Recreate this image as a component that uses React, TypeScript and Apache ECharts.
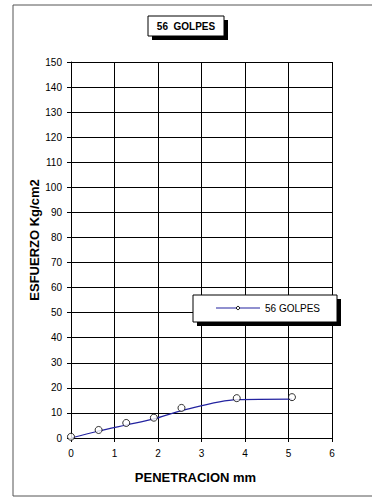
import React, { useEffect, useRef } from "react";
import * as echarts from "echarts";

const penetration = [0, 0.635, 1.27, 1.905, 2.54, 3.81, 5.08];
const measured = [0.5, 3.2, 6.0, 8.1, 12.0, 15.9, 16.3];
const fitted = [0, 2.8, 5.2, 7.6, 10.9, 15.3, 15.5];
const titleText = "56  GOLPES";
const seriesName = "56 GOLPES";
const xTitle = "PENETRACION mm";
const yTitle = "ESFUERZO Kg/cm2";

const FONT = "'Liberation Sans', Arial, sans-serif";

export default function App() {
  const ref = useRef<HTMLDivElement>(null);
  useEffect(() => {
    if (!ref.current) return;
    const chart = echarts.init(ref.current, undefined, { renderer: "svg" });
    chart.setOption({
      animation: false,
      backgroundColor: "#ffffff",
      textStyle: { fontFamily: FONT },
      grid: { left: 71, top: 62, right: 40, bottom: 59 },
      xAxis: {
        type: "value",
        min: 0,
        max: 6,
        interval: 1,
        name: xTitle,
        nameLocation: "middle",
        nameGap: 33,
        nameMoveOverlap: false,
        nameTextStyle: { fontFamily: FONT, fontWeight: "bold", fontSize: 13, color: "#000", padding: [0, 12, 0, 0] },
        axisLine: { lineStyle: { color: "#000", width: 1 } },
        axisTick: { show: true, length: 4, lineStyle: { color: "#000" } },
        axisLabel: { fontFamily: FONT, fontSize: 10, color: "#000", margin: 10 },
        splitLine: { show: true, lineStyle: { color: "#000", width: 1 } },
      },
      yAxis: {
        type: "value",
        min: 0,
        max: 150,
        interval: 10,
        name: yTitle,
        nameLocation: "middle",
        nameGap: 30,
        nameMoveOverlap: false,
        nameRotate: 90,
        nameTextStyle: { fontFamily: FONT, fontWeight: "bold", fontSize: 13, color: "#000", padding: [0, 0, 0, 20] },
        axisLine: { show: true, lineStyle: { color: "#000", width: 1 } },
        axisTick: { show: true, length: 4, lineStyle: { color: "#000" } },
        axisLabel: { fontFamily: FONT, fontSize: 10, color: "#000", margin: 9 },
        splitLine: { show: true, lineStyle: { color: "#000", width: 1 } },
      },
      series: [
        {
          name: seriesName,
          type: "line",
          data: penetration.map((x, i) => [x, fitted[i]]),
          smooth: 0.3,
          showSymbol: false,
          symbol: "none",
          lineStyle: { color: "#2323a0", width: 1.2 },
          z: 3,
        },
        {
          name: "puntos",
          type: "scatter",
          data: penetration.map((x, i) => [x, measured[i]]),
          symbol: "circle",
          symbolSize: 7,
          itemStyle: { color: "#ffffff", borderColor: "#000", borderWidth: 1 },
          z: 4,
        },
      ],
      graphic: [
        { type: "rect", shape: { x: 13, y: 5, width: 380, height: 491 }, style: { fill: "none", stroke: "#555", lineWidth: 1 }, z: 0, silent: true },
        { type: "rect", shape: { x: 152, y: 20, width: 76, height: 20 }, style: { fill: "#000" }, z: 10 },
        { type: "rect", shape: { x: 148, y: 16, width: 76, height: 20 }, style: { fill: "#fff", stroke: "#000", lineWidth: 1 }, z: 11 },
        { type: "text", x: 186, y: 26, style: { text: titleText, fontFamily: FONT, fontWeight: "bold", fontSize: 10, fill: "#000", align: "center", verticalAlign: "middle" }, z: 12 },
        { type: "rect", shape: { x: 197, y: 299, width: 144, height: 27 }, style: { fill: "#000" }, z: 10 },
        { type: "rect", shape: { x: 193, y: 295, width: 144, height: 27 }, style: { fill: "#fff", stroke: "#000", lineWidth: 1 }, z: 11 },
        { type: "line", shape: { x1: 216, y1: 308, x2: 260, y2: 308 }, style: { stroke: "#2323a0", lineWidth: 1.2 }, z: 12 },
        { type: "circle", shape: { cx: 238, cy: 308, r: 1.6 }, style: { fill: "#fff", stroke: "#000", lineWidth: 1 }, z: 13 },
        { type: "text", x: 265, y: 308, style: { text: seriesName, fontFamily: FONT, fontSize: 10, fill: "#000", align: "left", verticalAlign: "middle" }, z: 12 },
      ],
    });
    return () => chart.dispose();
  }, []);
  return <div ref={ref} style={{ position: "fixed", left: 0, top: 0, width: 372, height: 497 }} />;
}
